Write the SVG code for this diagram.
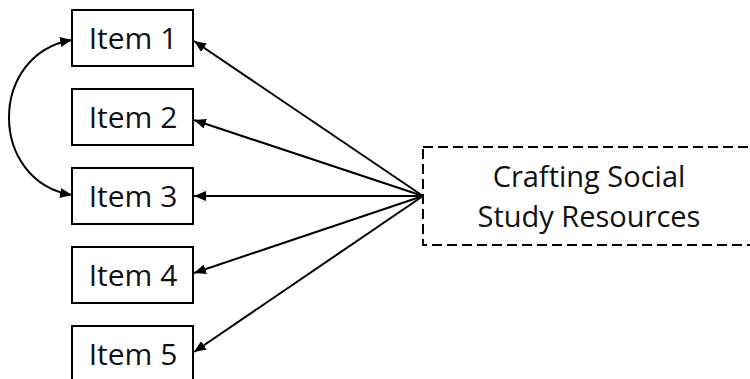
<svg xmlns="http://www.w3.org/2000/svg" width="750" height="379" viewBox="0 0 750 379">
<defs>
<marker id="ah" markerUnits="userSpaceOnUse" markerWidth="12" markerHeight="10" refX="12" refY="5" orient="auto-start-reverse">
<path d="M0,0 L12,5 L0,10 z" fill="#000"/>
</marker>
<style>
.box{fill:#fff;stroke:#000;stroke-width:2}
.dbox{fill:#fff;stroke:#000;stroke-width:2;stroke-dasharray:10 5}
.t{font-family:"Open Sans","Liberation Sans",sans-serif;font-size:30px;fill:#111;text-anchor:middle}
.c{fill:none;stroke:#000;stroke-width:2;marker-end:url(#ah)}
</style>
</defs>
<rect width="750" height="379" fill="#fff"/>
<g id="connectors">
<line class="c" x1="423" y1="196" x2="194" y2="41"/>
<line class="c" x1="423" y1="196" x2="194" y2="120"/>
<line class="c" x1="423" y1="196" x2="194" y2="196"/>
<line class="c" x1="423" y1="196" x2="194" y2="273"/>
<line class="c" x1="423" y1="196" x2="194" y2="352"/>
<path class="c" style="marker-start:url(#ah)" d="M72,40 C-12,54 -12,181 72,195"/>
</g>
<g id="item1"><rect class="box" x="72" y="10" width="121" height="56"/><text class="t" x="133" y="48.5">Item 1</text></g>
<g id="item2"><rect class="box" x="72" y="89" width="121" height="56"/><text class="t" x="133" y="127.5">Item 2</text></g>
<g id="item3"><rect class="box" x="72" y="168" width="121" height="56"/><text class="t" x="133" y="206.5">Item 3</text></g>
<g id="item4"><rect class="box" x="72" y="247" width="121" height="56"/><text class="t" x="133" y="285.5">Item 4</text></g>
<g id="item5"><rect class="box" x="72" y="326" width="121" height="56"/><text class="t" x="133" y="364.5">Item 5</text></g>
<g id="crafting"><rect class="dbox" x="423" y="147" width="328" height="98"/>
<text class="t" style="font-size:29px" x="589" y="187">Crafting Social</text>
<text class="t" style="font-size:29px" x="589" y="227">Study Resources</text></g>
</svg>
